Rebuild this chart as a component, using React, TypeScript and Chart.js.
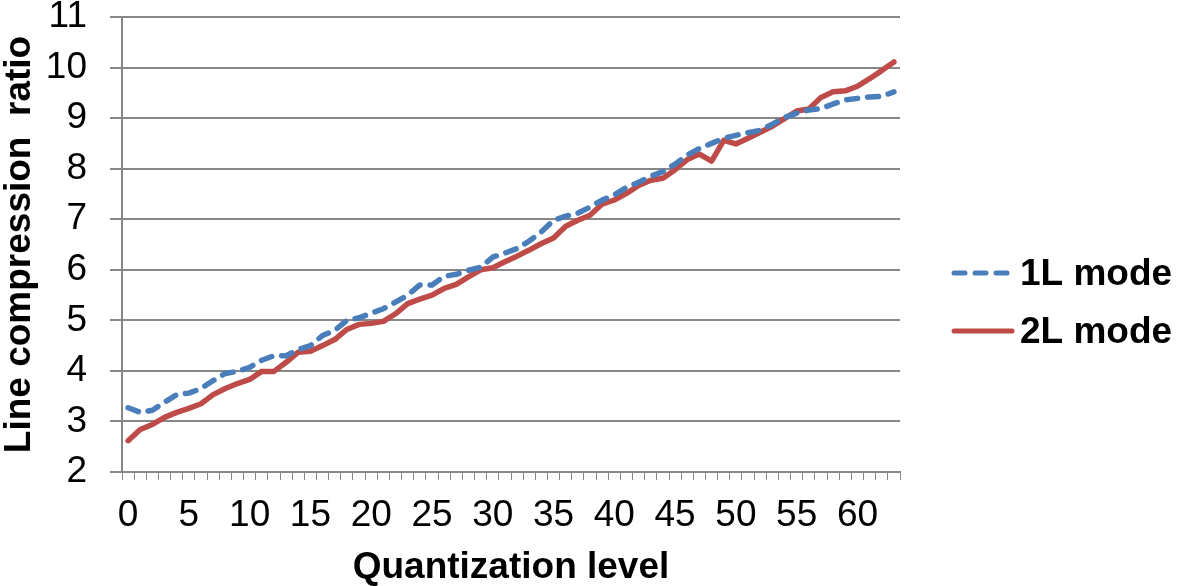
import React, { useEffect, useRef } from "react";
import { Chart, registerables } from "chart.js";

Chart.register(...registerables);

const categories: string[] = Array.from({ length: 64 }, (_, i) => String(i));
const mode1L: number[] = [
  3.27, 3.18, 3.22, 3.38, 3.53, 3.56, 3.65, 3.81, 3.95, 3.99,
  4.07, 4.21, 4.3, 4.3, 4.42, 4.5, 4.7, 4.8, 5.0, 5.05,
  5.14, 5.23, 5.36, 5.5, 5.7, 5.7, 5.87, 5.91, 5.99, 6.05,
  6.25, 6.33, 6.42, 6.57, 6.75, 6.98, 7.06, 7.12, 7.24, 7.38,
  7.48, 7.63, 7.73, 7.85, 7.94, 8.09, 8.27, 8.4, 8.5, 8.6,
  8.66, 8.71, 8.76, 8.88, 9.01, 9.1, 9.16, 9.19, 9.28, 9.36,
  9.39, 9.42, 9.43, 9.52,
];
const mode2L: number[] = [
  2.62, 2.84, 2.94, 3.08, 3.18, 3.26, 3.35, 3.53, 3.65, 3.75,
  3.83, 3.99, 3.99, 4.17, 4.37, 4.39, 4.5, 4.62, 4.82, 4.92,
  4.94, 4.98, 5.13, 5.33, 5.42, 5.5, 5.63, 5.71, 5.86, 6.0,
  6.04, 6.16, 6.27, 6.39, 6.52, 6.63, 6.86, 6.98, 7.08, 7.3,
  7.38, 7.51, 7.67, 7.77, 7.81, 7.98, 8.18, 8.29, 8.15, 8.56,
  8.49, 8.6, 8.72, 8.84, 8.99, 9.14, 9.18, 9.41, 9.52, 9.54,
  9.63, 9.78, 9.94, 10.11,
];
const seriesNames: string[] = ["1L mode", "2L mode"];
const xTitle = "Quantization level";
const yTitle = "Line compression  ratio";

const FONT = "'Liberation Sans', Arial, sans-serif";
const BLUE = "#4A7EBB";
const RED = "#BE4B48";
const GRID = "#878787";

const legendPlugin = {
  id: "customLegend",
  afterDraw(chart: any) {
    const ctx = chart.ctx;
    const items = chart.data.datasets.map((ds: any, i: number) => ({
      text: seriesNames[i],
      color: ds.borderColor,
      dash: ds.borderDash || [],
    }));
    const rows = [273, 331];
    ctx.save();
    items.forEach((it: any, i: number) => {
      const y = rows[i];
      ctx.beginPath();
      ctx.strokeStyle = it.color;
      ctx.lineWidth = 5;
      ctx.lineCap = "round";
      ctx.setLineDash(it.dash.length ? [11, 10] : []);
      ctx.moveTo(954, y);
      ctx.lineTo(1012, y);
      ctx.stroke();
      ctx.setLineDash([]);
      ctx.fillStyle = "#000";
      ctx.font = `bold 37px ${FONT}`;
      ctx.textBaseline = "middle";
      ctx.textAlign = "left";
      ctx.fillText(it.text, 1020, y + 2);
    });
    ctx.restore();
  },
};

export default function App() {
  const ref = useRef<HTMLCanvasElement>(null);
  useEffect(() => {
    document.body.style.margin = "0";
    const chart = new Chart(ref.current!, {
      type: "line",
      data: {
        labels: categories,
        datasets: [
          {
            label: seriesNames[0],
            data: mode1L,
            borderColor: BLUE,
            backgroundColor: BLUE,
            borderWidth: 5.5,
            borderDash: [11, 10],
            borderCapStyle: "round",
            borderJoinStyle: "round",
            pointRadius: 0,
            tension: 0,
          },
          {
            label: seriesNames[1],
            data: mode2L,
            borderColor: RED,
            backgroundColor: RED,
            borderWidth: 5.5,
            borderCapStyle: "round",
            borderJoinStyle: "round",
            pointRadius: 0,
            tension: 0,
          },
        ],
      },
      options: {
        responsive: false,
        animation: false,
        events: [],
        layout: { padding: { top: 0, right: 281, left: 0, bottom: 0 } },
        plugins: { legend: { display: false }, tooltip: { enabled: false } },
        scales: {
          x: {
            type: "category",
            offset: true,
            afterFit: (s: any) => {
              s.height = 114;
              s.paddingLeft = 0;
              s.paddingRight = 0;
            },
            grid: {
              offset: true,
              drawOnChartArea: false,
              drawTicks: true,
              tickLength: 8,
              color: GRID,
              lineWidth: 1,
            },
            border: { display: true, color: GRID, width: 2 },
            ticks: {
              autoSkip: false,
              maxRotation: 0,
              minRotation: 0,
              padding: 17,
              color: "#000",
              font: { family: FONT, size: 37, lineHeight: 1 },
              callback: (_v: any, i: number) => (i % 5 === 0 ? categories[i] : ""),
            },
            title: {
              display: true,
              text: xTitle,
              color: "#000",
              font: { family: FONT, size: 37, weight: "bold", lineHeight: 1 },
              padding: { top: 0, bottom: 0 },
            },
          },
          y: {
            min: 2,
            max: 11,
            afterFit: (s: any) => {
              s.width = 122;
              s.paddingTop = 17;
              s.paddingBottom = 0;
            },
            grid: {
              color: GRID,
              lineWidth: 2,
              tickLength: 12,
            },
            border: { display: true, color: GRID, width: 2 },
            ticks: {
              stepSize: 1,
              padding: 23,
              color: "#000",
              font: { family: FONT, size: 37, lineHeight: 0.9 },
            },
            title: {
              display: true,
              text: yTitle,
              color: "#000",
              font: { family: FONT, size: 37, weight: "bold", lineHeight: 1 },
              padding: { top: 1, bottom: 0 },
            },
          },
        },
      },
      plugins: [legendPlugin],
    });
    return () => chart.destroy();
  }, []);
  return (
    <div style={{ position: "absolute", left: 0, top: 0, width: 1181, height: 586 }}>
      <canvas ref={ref} width={1181} height={586} />
    </div>
  );
}
